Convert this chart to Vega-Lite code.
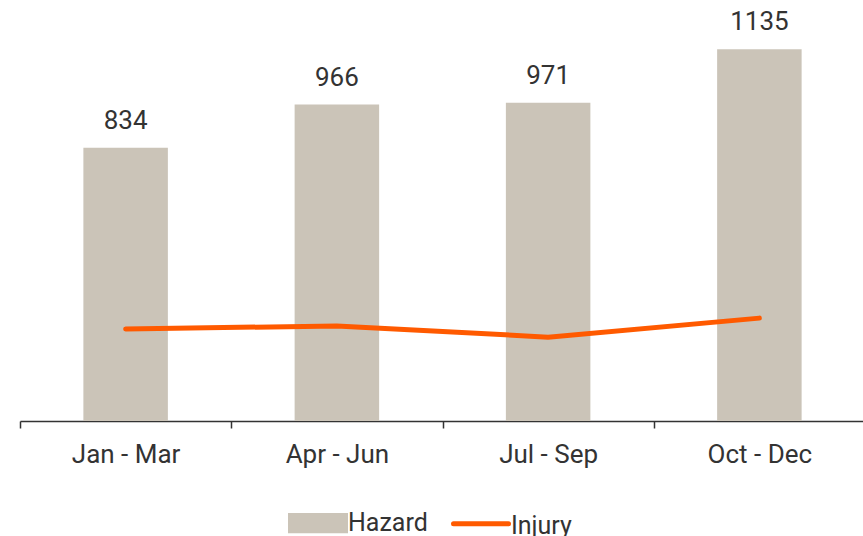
{
  "$schema": "https://vega.github.io/schema/vega-lite/v6.json",
  "width": 845,
  "height": 421,
  "autosize": {"type": "none"},
  "padding": {"left": 20, "top": 0, "right": 0, "bottom": 115},
  "config": {"view": {"stroke": null}, "font": "Roboto"},
  "data": {"values": [
    {"quarter": "Jan - Mar", "hazard": 834, "injury": 281},
    {"quarter": "Apr - Jun", "hazard": 966, "injury": 290},
    {"quarter": "Jul - Sep", "hazard": 971, "injury": 256},
    {"quarter": "Oct - Dec", "hazard": 1135, "injury": 314}
  ]},
  "encoding": {
    "x": {
      "field": "quarter", "type": "nominal", "sort": null,
      "scale": {"paddingInner": 0, "paddingOuter": 0},
      "axis": {
        "title": null, "labelAngle": 0, "labelFontSize": 26, "labelColor": "#333333",
        "domainColor": "#333333", "domainWidth": 1.5, "tickColor": "#333333", "tickWidth": 1.5,
        "tickSize": 7, "tickBand": "extent", "labelPadding": 13, "grid": false
      }
    }
  },
  "layer": [
    {
      "mark": {"type": "bar", "width": {"band": 0.4}},
      "encoding": {
        "y": {"field": "hazard", "type": "quantitative", "scale": {"domain": [0, 1285], "nice": false}, "axis": null},
        "color": {
          "datum": "Hazard", "type": "nominal",
          "scale": {"domain": ["Hazard", "Injury"], "range": ["#CBC4B8", "#FF5A00"]},
          "legend": {
            "orient": "none", "legendX": 268, "legendY": 493, "direction": "horizontal", "title": null,
            "labelFontSize": 25, "labelColor": "#333333", "symbolSize": 3025, "labelOffset": 0,
            "columnPadding": 15,
            "encode": {"symbols": {"update": {
              "shape": {"signal": "datum.value === 'Hazard' ? 'M-1,-0.28H1V0.28H-1Z' : 'M-1,-0.06H1'"},
              "fill": {"signal": "datum.value === 'Hazard' ? '#CBC4B8' : 'transparent'"},
              "stroke": {"signal": "datum.value === 'Hazard' ? 'transparent' : '#FF5A00'"},
              "strokeWidth": {"value": 5},
              "strokeCap": {"value": "round"},
              "size": {"value": 3025},
              "opacity": {"value": 1}
            }}}
          }
        }
      }
    },
    {
      "mark": {"type": "text", "fontSize": 26, "color": "#333333", "baseline": "alphabetic", "dy": -19},
      "encoding": {
        "y": {"field": "hazard", "type": "quantitative"},
        "text": {"field": "hazard", "type": "quantitative", "format": "d"}
      }
    },
    {
      "mark": {"type": "line", "strokeWidth": 5, "strokeCap": "round"},
      "encoding": {
        "y": {"field": "injury", "type": "quantitative"},
        "color": {"datum": "Injury", "type": "nominal"}
      }
    }
  ]
}
